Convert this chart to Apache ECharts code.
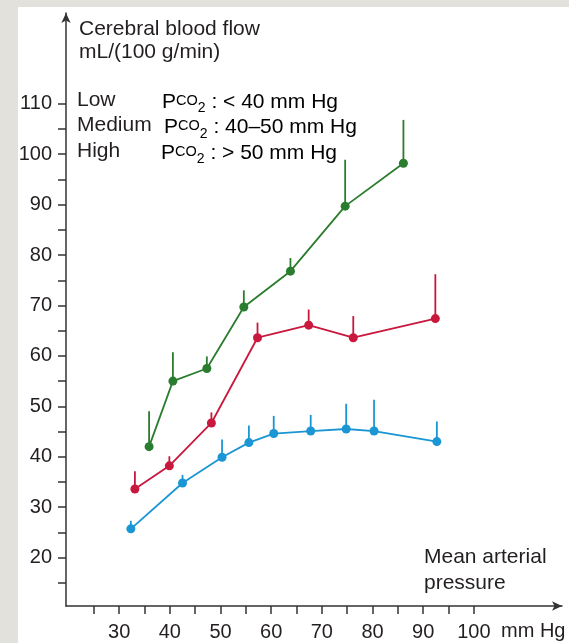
<!DOCTYPE html>
<html>
<head>
<meta charset="utf-8">
<script src="https://cdn.jsdelivr.net/npm/echarts@6/dist/echarts.min.js"></script>
<style>
html,body{margin:0;padding:0;background:#ffffff;}
#chart{width:569px;height:643px;}
</style>
</head>
<body>
<div id="chart"></div>
<script>
// ---- Data ----
// Low Pco2 (< 40 mm Hg) - blue
const lowX   = [32.3, 42.5, 50.3, 55.6, 60.5, 67.8, 74.8, 80.3, 92.7];
const lowY   = [25.7, 34.8, 39.9, 42.8, 44.6, 45.1, 45.5, 45.1, 43.0];
const lowErr = [27.3, 36.4, 43.4, 46.2, 48.1, 48.3, 50.5, 51.3, 47.0];
// Medium Pco2 (40-50 mm Hg) - red
const medX   = [33.1, 39.9, 48.2, 57.3, 67.4, 76.2, 92.4];
const medY   = [33.6, 38.2, 46.7, 63.6, 66.1, 63.6, 67.4];
const medErr = [37.1, 40.1, 48.8, 66.6, 69.2, 67.9, 76.2];
// High Pco2 (> 50 mm Hg) - green
const highX   = [35.9, 40.6, 47.3, 54.6, 63.8, 74.6, 86.1];
const highY   = [42.0, 55.0, 57.5, 69.7, 76.8, 89.7, 98.2];
const highErr = [49.0, 60.7, 59.9, 73.0, 79.4, 98.9, 106.8];

const xTickValues  = [25, 30, 35, 40, 45, 50, 55, 60, 65, 70, 75, 80, 85, 90, 95, 100];
const xLabelValues = [30, 40, 50, 60, 70, 80, 90, 100];
const yTickValues  = [15, 20, 25, 30, 35, 40, 45, 50, 55, 60, 65, 70, 75, 80, 85, 90, 95, 100, 105, 110];
const yLabelValues = [20, 30, 40, 50, 60, 70, 80, 90, 100, 110];

const titleLines  = ['Cerebral blood flow', 'mL/(100 g/min)'];
const groupNames  = ['Low', 'Medium', 'High'];
const groupRanges = [' : < 40 mm Hg', ' : 40\u201350 mm Hg', ' : > 50 mm Hg'];
const xTitleLines = ['Mean arterial', 'pressure'];
const xUnit = 'mm Hg';

// ---- Styles ----
const FONT = "'Liberation Sans', Arial, Helvetica, sans-serif";
const TXT = '#231f20';
const AX = '#333333';
const COLORS = { low: '#1a96d4', med: '#c9183d', high: '#2a7d2e' };
const F21 = '21px ' + FONT;

function pairs(xs, ys) { return xs.map((x, i) => [x, ys[i]]); }
function triples(xs, ys, es) { return xs.map((x, i) => [x, ys[i], es[i]]); }

function lineSeries(name, xs, ys, color) {
  return {
    name, type: 'line', data: pairs(xs, ys),
    symbol: 'circle', symbolSize: 9,
    lineStyle: { color, width: 1.8 },
    itemStyle: { color },
    z: 3, animation: false
  };
}
function errSeries(name, xs, ys, es, color) {
  return {
    name: name + ' err', type: 'custom', data: triples(xs, ys, es),
    encode: { x: 0, y: [1, 2] },
    renderItem: function (params, api) {
      const p0 = api.coord([api.value(0), api.value(1)]);
      const p1 = api.coord([api.value(0), api.value(2)]);
      return { type: 'line', shape: { x1: p0[0], y1: p0[1], x2: p1[0], y2: p1[1] },
               style: { stroke: color, lineWidth: 1.8 } };
    },
    z: 2, animation: false, silent: true
  };
}

const rich = {
  p: { fontFamily: FONT, fontSize: 21, lineHeight: 22, color: TXT },
  c: { fontFamily: FONT, fontSize: 14.5, lineHeight: 22, color: TXT, verticalAlign: 'bottom', padding: [0, 0, 5, 0] },
  s: { fontFamily: FONT, fontSize: 14, lineHeight: 14, color: TXT, padding: [13, 0, 0, 0] },
  n: { fontFamily: FONT, fontSize: 21, lineHeight: 22, color: TXT }
};

const chart = echarts.init(document.getElementById('chart'), null, { renderer: 'canvas' });

const graphics = [
  { type: 'rect', shape: { x: 0, y: 0, width: 18, height: 643 }, style: { fill: '#e3e1dc' }, z: -10 },
  { type: 'rect', shape: { x: 0, y: 0, width: 569, height: 7 }, style: { fill: '#e3e1dc' }, z: -10 },
  { type: 'text', x: 79, y: 29, style: { text: titleLines[0], font: F21, fill: TXT, textVerticalAlign: 'middle' } },
  { type: 'text', x: 79, y: 52, style: { text: titleLines[1], font: F21, fill: TXT, textVerticalAlign: 'middle' } },
  { type: 'text', x: 424, y: 557, style: { text: xTitleLines[0], font: F21, fill: TXT, textVerticalAlign: 'middle' } },
  { type: 'text', x: 424, y: 583, style: { text: xTitleLines[1], font: F21, fill: TXT, textVerticalAlign: 'middle' } },
  { type: 'text', x: 501, y: 631, style: { text: xUnit, font: '20px ' + FONT, fill: TXT, textVerticalAlign: 'middle' } }
];
const rowY = [100, 125.5, 151];
const pcoX = [162, 164, 161];
groupNames.forEach((g, i) => {
  graphics.push({ type: 'text', x: 77, y: rowY[i], style: { text: g, font: F21, fill: TXT, textVerticalAlign: 'middle' } });
  graphics.push({ type: 'text', x: pcoX[i], y: rowY[i] + 2, style: {
    text: '{p|P}{c|CO}{s|2}{n|' + groupRanges[i] + '}', rich: rich, textVerticalAlign: 'middle' } });
});

chart.setOption({
  animation: false,
  backgroundColor: '#ffffff',
  grid: { left: 66, right: 7, top: 13, bottom: 37, containLabel: false, outerBoundsMode: 'none' },
  xAxis: {
    type: 'value', min: 19.5, max: 117.4,
    splitLine: { show: false },
    axisLine: { show: true, onZero: false, lineStyle: { color: AX, width: 1.5 }, symbol: ['none', 'arrow'], symbolSize: [7, 10] },
    axisTick: { show: true, length: 8, customValues: xTickValues, lineStyle: { color: AX, width: 1.5 } },
    axisLabel: { show: true, customValues: xLabelValues, margin: 16, fontSize: 20, fontFamily: FONT, color: TXT }
  },
  yAxis: {
    type: 'value', min: 10.4, max: 128,
    splitLine: { show: false },
    axisLine: { show: true, onZero: false, lineStyle: { color: AX, width: 1.5 }, symbol: ['none', 'arrow'], symbolSize: [7, 10] },
    axisTick: { show: true, length: 8, customValues: yTickValues, lineStyle: { color: AX, width: 1.5 } },
    axisLabel: { show: true, customValues: yLabelValues, margin: 14, fontSize: 20, fontFamily: FONT, color: TXT }
  },
  series: [
    errSeries('Low', lowX, lowY, lowErr, COLORS.low),
    errSeries('Medium', medX, medY, medErr, COLORS.med),
    errSeries('High', highX, highY, highErr, COLORS.high),
    lineSeries('Low', lowX, lowY, COLORS.low),
    lineSeries('Medium', medX, medY, COLORS.med),
    lineSeries('High', highX, highY, COLORS.high)
  ],
  graphic: graphics
});
</script>
</body>
</html>
